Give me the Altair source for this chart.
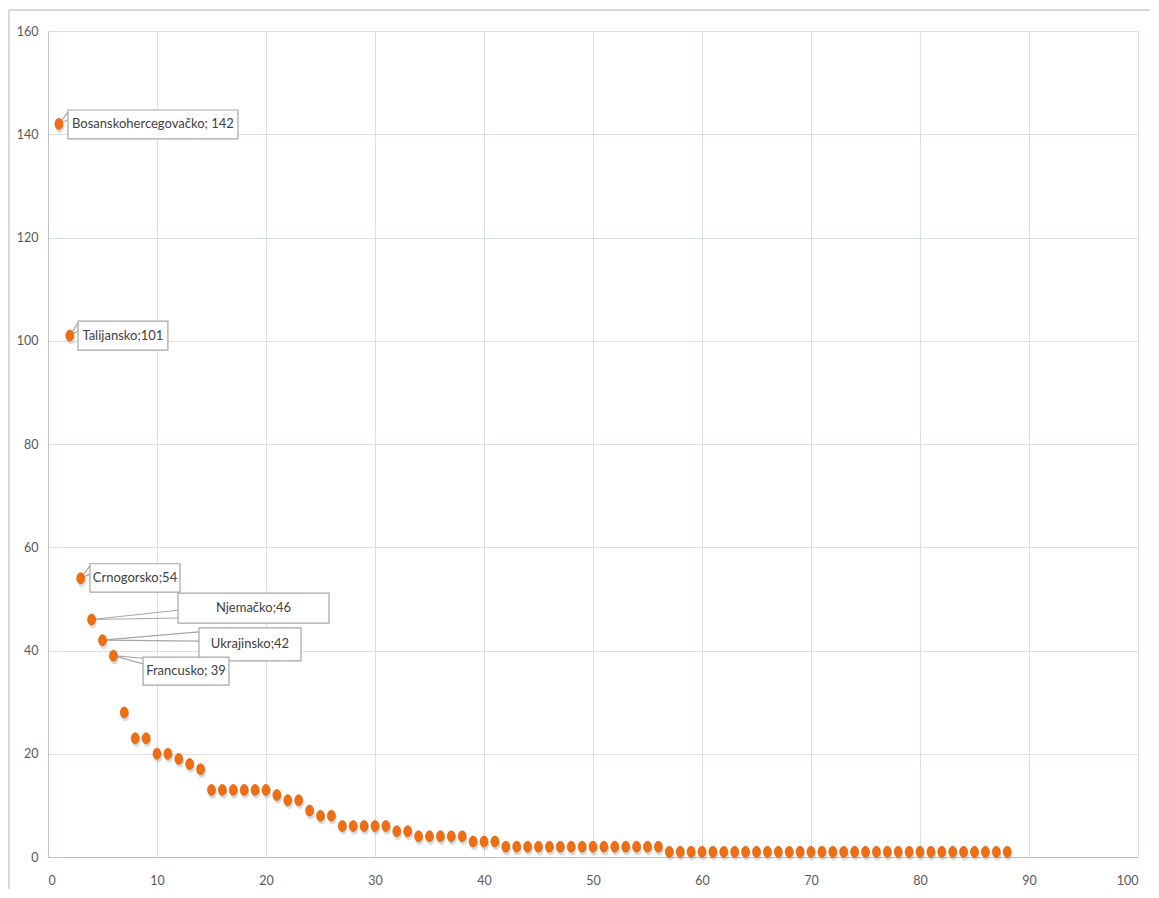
import altair as alt
import pandas as pd

# ---- data ----
ranks = list(range(1, 89))
counts = [142, 101, 54, 46, 42, 39, 28, 23, 23, 20,
          20, 19, 18, 17, 13, 13, 13, 13, 13, 13,
          12, 11, 11, 9, 8, 8, 6, 6, 6, 6,
          6, 5, 5, 4, 4, 4, 4, 4, 3, 3,
          3, 2, 2, 2, 2, 2, 2, 2, 2, 2,
          2, 2, 2, 2, 2, 2, 1, 1, 1, 1,
          1, 1, 1, 1, 1, 1, 1, 1, 1, 1,
          1, 1, 1, 1, 1, 1, 1, 1, 1, 1,
          1, 1, 1, 1, 1, 1, 1, 1]

label_names = ["Bosanskohercegovačko; 142", "Talijansko;101", "Crnogorsko;54",
               "Njemačko;46", "Ukrajinsko;42", "Francusko; 39"]
label_rank = [1, 2, 3, 4, 5, 6]
label_count = [142, 101, 54, 46, 42, 39]

# annotation boxes (data coordinates)
box_x1 = [1.83, 2.75, 3.85, 11.93, 13.85, 8.72]
box_x2 = [17.43, 11.0, 12.11, 25.78, 23.21, 16.6]
box_y1 = [139.1, 98.2, 51.3, 45.3, 38.0, 33.3]
box_y2 = [144.7, 103.8, 56.8, 51.1, 44.4, 38.7]
lead_ya = [144.3, 103.4, 56.4, 47.8, 43.6, 38.5]
lead_yb = [142.8, 101.9, 54.8, 46.3, 41.8, 37.4]

x_ticks = [0, 10, 20, 30, 40, 50, 60, 70, 80, 90, 100]
y_ticks = [0, 20, 40, 60, 80, 100, 120, 140, 160]

pts = pd.DataFrame({"rank": ranks, "count": counts})
lab = pd.DataFrame({
    "name": label_names, "rank": label_rank, "count": label_count,
    "bx1": box_x1, "bx2": box_x2, "by1": box_y1, "by2": box_y2,
    "ya": lead_ya, "yb": lead_yb,
})
lab["tx"] = (lab["bx1"] + lab["bx2"]) / 2
lab["ty"] = (lab["by1"] + lab["by2"]) / 2

FONT = "Lato"
GRID = "#D9DEE7"
AXIS_LINE = "#B8C3D2"
LABEL = "#595959"

xscale = alt.Scale(domain=[0, 100], nice=False, zero=False)
yscale = alt.Scale(domain=[0, 160], nice=False)

xaxis = alt.Axis(values=x_ticks, grid=True, gridColor=GRID, domainColor=AXIS_LINE,
                 ticks=False, labelColor=LABEL, labelFontSize=12.5, labelFont=FONT,
                 labelPadding=17, title=None)
yaxis = alt.Axis(values=y_ticks, grid=True, gridColor=GRID, domainColor=AXIS_LINE,
                 ticks=False, labelColor=LABEL, labelFontSize=12.5, labelFont=FONT,
                 labelPadding=10, title=None, minExtent=32, maxExtent=32)

base = alt.Chart(pts).encode(
    x=alt.X("rank:Q", scale=xscale, axis=xaxis),
    y=alt.Y("count:Q", scale=yscale, axis=yaxis),
)

ELLIPSE = "M0,-1A0.73,1 0 1,1 0,1A0.73,1 0 1,1 0,-1Z"

shadow = base.mark_point(shape=ELLIPSE, size=130, filled=True, color="#7a7a7a",
                         opacity=0.28).encode(xOffset=alt.value(1), yOffset=alt.value(3))
dots = base.mark_point(shape=ELLIPSE, size=121, filled=True, color="#EE6E14",
                       opacity=1, stroke="#D85C08", strokeWidth=0.6)

lb = alt.Chart(lab)
lead_a = lb.mark_rule(color="#A6A6A6", strokeWidth=1.2).encode(
    x=alt.X("rank:Q", scale=xscale), y=alt.Y("count:Q", scale=yscale),
    x2="bx1:Q", y2="ya:Q")
lead_b = lb.mark_rule(color="#A6A6A6", strokeWidth=1.2).encode(
    x=alt.X("rank:Q", scale=xscale), y=alt.Y("count:Q", scale=yscale),
    x2="bx1:Q", y2="yb:Q")
boxes = lb.mark_rect(fill="white", stroke="#A6A6A6", strokeWidth=1.2).encode(
    x=alt.X("bx1:Q", scale=xscale), x2="bx2:Q",
    y=alt.Y("by1:Q", scale=yscale), y2="by2:Q")
texts = lb.mark_text(font=FONT, fontSize=13, color="#404040", align="center",
                     baseline="middle").encode(
    x=alt.X("tx:Q", scale=xscale), y=alt.Y("ty:Q", scale=yscale), text="name:N")

# outer chart-area border (top and left edges)
frame_top = alt.Chart(pts).mark_rule(color="#D9D9D9", strokeWidth=1.5).encode(
    x=alt.value(-39), x2=alt.value(1115), y=alt.value(-21))
frame_left = alt.Chart(pts).mark_rule(color="#D9D9D9", strokeWidth=1.5).encode(
    x=alt.value(-39), y=alt.value(-21), y2=alt.value(870))

chart = alt.layer(
    frame_top, frame_left, shadow, lead_a, lead_b, dots, boxes, texts
).properties(
    width=1090, height=826,
    autosize=alt.AutoSizeParams(type="none"),
    padding={"left": 40, "top": 23, "right": 12, "bottom": 32},
).configure_view(stroke=GRID).configure(background="white")

chart.save("out.html", embed_options={"renderer": "svg", "actions": False})
